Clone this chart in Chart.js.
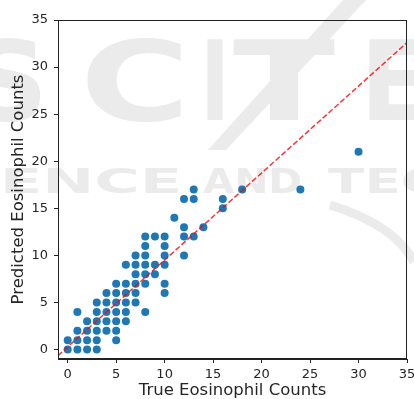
<!DOCTYPE html>
<html>
<head>
<meta charset="utf-8">
<script src="https://cdn.jsdelivr.net/npm/chart.js@4/dist/chart.umd.min.js"></script>
<style>
html,body{margin:0;padding:0;background:#fff;}
#wrap{width:414px;height:399px;position:relative;}
</style>
</head>
<body>
<div id="wrap"><canvas id="c" width="414" height="399"></canvas></div>
<script>
// True vs predicted eosinophil counts
const trueCounts = [
  0,1,2,3,
  0,1,2,3,5,
  1,2,3,4,5,
  2,3,4,5,6,
  1,3,4,5,6,8,
  3,4,5,6,7,
  4,5,6,7,10,
  5,6,7,8,10,
  7,8,9,
  6,7,8,9,10,
  7,8,10,12,
  8,10,
  8,9,10,12,13,
  12,14,
  11,
  16,
  12,13,16,
  13,18,24,
  30
];
const predictedCounts = [
  0,0,0,0,
  1,1,1,1,1,
  2,2,2,2,2,
  3,3,3,3,3,
  4,4,4,4,4,4,
  5,5,5,5,5,
  6,6,6,6,6,
  7,7,7,7,7,
  8,8,8,
  9,9,9,9,9,
  10,10,10,10,
  11,11,
  12,12,12,12,12,
  13,13,
  14,
  15,
  16,16,16,
  17,17,17,
  21
];
// fitted dashed reference line (endpoints)
const fitX = [-1, 35];
const fitY = [-0.64, 32.6];
const tickValues = [0, 5, 10, 15, 20, 25, 30, 35];
const xTitle = 'True Eosinophil Counts';
const yTitle = 'Predicted Eosinophil Counts';

const scatterData = trueCounts.map((x, i) => ({x: x, y: predictedCounts[i]}));
const lineData = fitX.map((x, i) => ({x: x, y: fitY[i]}));

const TXT = '#262626';
const FONT = "'DejaVu Sans', sans-serif";
const WM = '#ebebeb';

function drawFit(ctx, text, x0, x1, baseY, capH) {
  const size = capH / 0.729;
  ctx.font = 'bold ' + size + 'px ' + FONT;
  const w = ctx.measureText(text).width;
  ctx.save();
  ctx.translate(x0, baseY);
  ctx.scale((x1 - x0) / w, 1);
  ctx.fillText(text, 0, 0);
  ctx.restore();
}

const watermark = {
  id: 'watermark',
  beforeDraw(chart) {
    const ctx = chart.ctx;
    ctx.save();
    ctx.fillStyle = '#fff';
    ctx.fillRect(0, 0, chart.width, chart.height);
    ctx.fillStyle = WM;
    ctx.textBaseline = 'alphabetic';
    drawFit(ctx, 'S', -30, 48, 120, 80);
    drawFit(ctx, 'C', 80, 190, 120, 80);
    drawFit(ctx, 'I', 200, 230, 120, 80);
    drawFit(ctx, 'T', 233, 335, 120, 80);
    drawFit(ctx, 'E', 360, 430, 120, 80);
    drawFit(ctx, 'ENCE', 0, 182, 193, 25);
    drawFit(ctx, 'AND', 203, 302, 193, 25);
    drawFit(ctx, 'TEC', 328, 440, 193, 25);
    // slash
    ctx.beginPath();
    ctx.moveTo(343, 0); ctx.lineTo(366, 0); ctx.lineTo(226, 150); ctx.lineTo(208, 150);
    ctx.closePath();
    ctx.fill();
    // swoosh
    ctx.strokeStyle = WM;
    ctx.lineWidth = 9;
    ctx.beginPath();
    ctx.moveTo(330, 205);
    ctx.quadraticCurveTo(395, 225, 414, 262);
    ctx.stroke();
    ctx.restore();
  },
  afterDatasetsDraw(chart) {
    const a = chart.chartArea;
    const ctx = chart.ctx;
    ctx.save();
    ctx.strokeStyle = '#222';
    ctx.lineWidth = 1;
    ctx.strokeRect(Math.round(a.left) + 0.5, Math.round(a.top) + 0.5,
      Math.round(a.right - a.left) - 1, Math.round(a.bottom - a.top) - 1);
    ctx.restore();
  }
};

new Chart(document.getElementById('c'), {
  type: 'scatter',
  data: {
    datasets: [
      {
        label: 'fit',
        data: lineData,
        showLine: true,
        borderColor: 'rgba(255,0,0,0.8)',
        borderWidth: 1.5,
        borderDash: [5.5, 2.4],
        pointRadius: 0,
        fill: false,
        order: 0
      },
      {
        label: 'counts',
        data: scatterData,
        backgroundColor: '#1f77b4',
        borderWidth: 0,
        pointRadius: 4,
        order: 1
      }
    ]
  },
  plugins: [watermark],
  options: {
    responsive: false,
    animation: false,
    devicePixelRatio: 1,
    layout: {padding: {top: 20, right: 7, left: 0, bottom: 0}},
    plugins: {legend: {display: false}, tooltip: {enabled: false}},
    scales: {
      x: {
        type: 'linear',
        min: -1, max: 35,
        afterFit: s => { s.height = 40; s.paddingLeft = 0; s.paddingRight = 0; },
        afterBuildTicks: s => { s.ticks = tickValues.map(v => ({value: v})); },
        grid: {drawOnChartArea: false, tickLength: 4, tickColor: '#222'},
        border: {color: '#222', width: 1},
        ticks: {color: TXT, font: {family: FONT, size: 13}, padding: 4, maxRotation: 0},
        title: {display: true, text: xTitle, color: TXT,
          font: {family: FONT, size: 16.5, lineHeight: 1}, padding: {top: 0, bottom: 0}}
      },
      y: {
        type: 'linear',
        min: -1, max: 35,
        afterFit: s => { s.width = 58; s.paddingTop = 0; s.paddingBottom = 0; },
        afterBuildTicks: s => { s.ticks = tickValues.map(v => ({value: v})); },
        grid: {drawOnChartArea: false, tickLength: 4, tickColor: '#222'},
        border: {color: '#222', width: 1},
        ticks: {color: TXT, font: {family: FONT, size: 13}, padding: 6},
        title: {display: true, text: yTitle, color: TXT,
          font: {family: FONT, size: 16.5, lineHeight: 1}, padding: {top: 10, bottom: 0}}
      }
    }
  }
});
</script>
</body>
</html>
